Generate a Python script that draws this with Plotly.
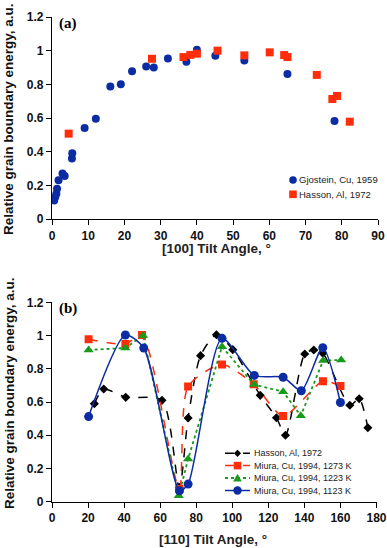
import plotly.graph_objects as go

# ---- Panel (a) data: [100] tilt ----
gj_x = [0.6, 0.9, 1.2, 1.4, 1.8, 2.9, 3.5, 5.5, 5.6, 9.0, 12.1, 16.1, 19.0, 22.1, 26.0, 28.1, 32.0, 37.1, 40.0, 45.1, 53.1, 65.0, 78.0]
gj_y = [0.11, 0.13, 0.15, 0.18, 0.23, 0.27, 0.255, 0.36, 0.39, 0.54, 0.595, 0.787, 0.80, 0.878, 0.906, 0.90, 0.954, 0.934, 1.005, 0.97, 0.942, 0.862, 0.582]
ha_x = [4.6, 27.6, 36.3, 38.2, 40.0, 45.7, 53.1, 60.1, 64.1, 65.0, 73.1, 77.4, 78.7, 82.2]
ha_y = [0.507, 0.952, 0.962, 0.975, 0.982, 1.0, 0.972, 0.99, 0.974, 0.962, 0.856, 0.713, 0.731, 0.578]

# ---- Panel (b) data: [110] tilt ----
hb_x = [23.5, 28.7, 40.9, 61.0, 70.6, 75.5, 82.4, 91.2, 100.3, 115.5, 124.5, 129.5, 140.2, 145.2, 150.2, 165.2, 170.4, 175.2]
hb_y = [0.59, 0.678, 0.628, 0.61, 0.086, 0.504, 0.879, 1.005, 0.915, 0.64, 0.505, 0.40, 0.889, 0.913, 0.893, 0.58, 0.62, 0.445]
m1273_x = [20.3, 40.7, 49.9, 70.6, 75.5, 94.3, 111.9, 128.2, 150.3, 160.0]
m1273_y = [0.978, 0.949, 1.003, 0.076, 0.694, 0.825, 0.707, 0.516, 0.725, 0.697]
m1223_x = [20.3, 40.7, 50.5, 70.3, 75.5, 94.3, 112.1, 128.2, 138.0, 150.4, 160.4]
m1223_y = [0.913, 0.925, 1.0, 0.036, 0.257, 0.933, 0.705, 0.662, 0.517, 0.849, 0.853]
m1123_x = [20.3, 40.7, 50.9, 70.7, 75.5, 94.3, 112.2, 128.2, 138.3, 150.2, 160.0]
m1123_y = [0.512, 1.003, 0.925, 0.066, 0.106, 0.983, 0.76, 0.749, 0.668, 0.927, 0.597]

a_xticks = list(range(0, 100, 10))
b_xticks = list(range(0, 200, 20))
yticks = [0, 0.2, 0.4, 0.6, 0.8, 1.0, 1.2]
ytick_text = ["0", "0.2", "0.4", "0.6", "0.8", "1", "1.2"]

a_names = ["Gjostein, Cu, 1959", "Hasson, Al, 1972"]
b_names = ["Hasson, Al, 1972", "Miura, Cu, 1994, 1273 K", "Miura, Cu, 1994, 1223 K", "Miura, Cu, 1994, 1123 K"]

BLUE = "#0c2ca3"
RED = "#ff2d0a"
GREEN = "#1a9a1a"
BLACK = "#000000"
FONT = "Liberation Sans"

W, H = 387, 548
fig = go.Figure()


def px_x(p):
    return p / W


def px_y(p):
    return 1 - p / H


# panel a
fig.add_trace(go.Scatter(x=gj_x, y=gj_y, mode="markers", name=a_names[0],
                         marker=dict(symbol="circle", size=8, color=BLUE),
                         xaxis="x", yaxis="y", showlegend=False))
fig.add_trace(go.Scatter(x=ha_x, y=ha_y, mode="markers", name=a_names[1],
                         marker=dict(symbol="square", size=8, color=RED),
                         xaxis="x", yaxis="y", showlegend=False))

# panel b
b_styles = [
    dict(color=BLACK, dash="dash", shape="spline", symbol="diamond", size=7, width=1.5),
    dict(color=RED, dash="dash", shape="spline", symbol="square", size=8, width=1.5),
    dict(color=GREEN, dash="dot", shape="linear", symbol="triangle-up", size=9, width=1.8),
    dict(color=BLUE, dash="solid", shape="spline", symbol="circle", size=9, width=1.5),
]
b_data = [(hb_x, hb_y), (m1273_x, m1273_y), (m1223_x, m1223_y), (m1123_x, m1123_y)]
for (xs, ys), nm, st in zip(b_data, b_names, b_styles):
    line = dict(color=st["color"], width=st["width"], dash=st["dash"], shape=st["shape"])
    if st["shape"] == "spline":
        line["smoothing"] = 0.7
    fig.add_trace(go.Scatter(x=xs, y=ys, mode="lines+markers", name=nm, line=line,
                             marker=dict(symbol=st["symbol"], size=st["size"], color=st["color"]),
                             xaxis="x2", yaxis="y2", showlegend=False))

axis_common = dict(showgrid=False, zeroline=False, showline=True, linecolor="black", linewidth=1.2,
                   ticks="outside", ticklen=5, tickcolor="black", tickwidth=1,
                   tickfont=dict(family=FONT, size=12, color="#111", weight="bold"))

fig.update_layout(
    width=W, height=H, margin=dict(l=0, r=0, t=0, b=0, autoexpand=False),
    paper_bgcolor="white", plot_bgcolor="white", showlegend=False,
    xaxis=dict(domain=[px_x(52), px_x(378)], range=[0, 90], tickvals=a_xticks, anchor="y", **axis_common),
    yaxis=dict(domain=[px_y(219), px_y(17)], range=[0, 1.2], tickvals=yticks, ticktext=ytick_text, anchor="x", **axis_common),
    xaxis2=dict(domain=[px_x(52), px_x(376.5)], range=[0, 180], tickvals=b_xticks, anchor="y2", **axis_common),
    yaxis2=dict(domain=[px_y(501.7), px_y(302.3)], range=[0, 1.2], tickvals=yticks, ticktext=ytick_text, anchor="x2", **axis_common),
)

# ---- manual legend keys (paper coordinates) ----
LEG_FONT_A = dict(family=FONT, size=9.5, color="#222")
LEG_FONT_B = dict(family=FONT, size=9, color="#222")


def marker_shape(symbol, cx, cy, r, color):
    """Legend key marker drawn as a paper-referenced shape (cx, cy in pixels)."""
    if symbol == "circle":
        fig.add_shape(type="circle", xref="paper", yref="paper",
                      x0=px_x(cx - r), x1=px_x(cx + r), y0=px_y(cy + r), y1=px_y(cy - r),
                      fillcolor=color, line=dict(width=0))
    elif symbol == "square":
        fig.add_shape(type="rect", xref="paper", yref="paper",
                      x0=px_x(cx - r), x1=px_x(cx + r), y0=px_y(cy + r), y1=px_y(cy - r),
                      fillcolor=color, line=dict(width=0))
    else:
        if symbol == "diamond":
            pts = [(cx, cy - r), (cx + r, cy), (cx, cy + r), (cx - r, cy)]
        else:  # triangle-up
            pts = [(cx, cy - r), (cx + r, cy + r * 0.8), (cx - r, cy + r * 0.8)]
        path = "M " + " L ".join(f"{px_x(a):.5f},{px_y(b):.5f}" for a, b in pts) + " Z"
        fig.add_shape(type="path", xref="paper", yref="paper", path=path,
                      fillcolor=color, line=dict(width=0))


# legend (a)
a_rows = [180.0, 194.3]
a_syms = [("circle", BLUE), ("square", RED)]
for yy, nm, (sym, col) in zip(a_rows, a_names, a_syms):
    marker_shape(sym, 293, yy, 3.8, col)
    fig.add_annotation(text=nm, x=px_x(297), y=px_y(yy), xref="paper", yref="paper",
                       xanchor="left", yanchor="middle", showarrow=False, font=LEG_FONT_A)

# legend (b)
b_rows = [453.3, 465.6, 478.0, 490.5]
for yy, nm, st in zip(b_rows, b_names, b_styles):
    fig.add_shape(type="line", xref="paper", yref="paper",
                  x0=px_x(225), x1=px_x(250), y0=px_y(yy), y1=px_y(yy),
                  line=dict(color=st["color"], width=st["width"], dash=st["dash"]))
    r = {"diamond": 3.6, "square": 3.8, "triangle-up": 4.3, "circle": 4.2}[st["symbol"]]
    marker_shape(st["symbol"], 237.5, yy, r, st["color"])
    fig.add_annotation(text=nm, x=px_x(252), y=px_y(yy), xref="paper", yref="paper",
                       xanchor="left", yanchor="middle", showarrow=False, font=LEG_FONT_B)

YTITLE_FONT = dict(family=FONT, size=13.5, color="#111", weight="bold")
XTITLE_FONT = dict(family=FONT, size=13.5, color="#222", weight="bold")
annos = [
    dict(text="(a)", x=px_x(57), y=px_y(24), xanchor="left", yanchor="middle",
         font=dict(family="Liberation Serif", size=15, color="black", weight="bold")),
    dict(text="(b)", x=px_x(57), y=px_y(308), xanchor="left", yanchor="middle",
         font=dict(family="Liberation Serif", size=15, color="black", weight="bold")),
    dict(text="Relative grain boundary energy, a.u.", x=px_x(9), y=px_y(119), textangle=-90,
         xanchor="center", yanchor="middle", font=YTITLE_FONT),
    dict(text="Relative grain boundary energy, a.u.", x=px_x(9), y=px_y(393), textangle=-90,
         xanchor="center", yanchor="middle", font=YTITLE_FONT),
    dict(text="[100] Tilt Angle, °", x=px_x(216), y=px_y(248), xanchor="center", yanchor="middle",
         font=XTITLE_FONT),
    dict(text="[110] Tilt Angle, °", x=px_x(213), y=px_y(539), xanchor="center", yanchor="middle",
         font=XTITLE_FONT),
]
for a in annos:
    fig.add_annotation(xref="paper", yref="paper", showarrow=False, **a)

fig.write_html("out.html", config={"displayModeBar": False},
               post_script="document.body.style.margin='0';")
